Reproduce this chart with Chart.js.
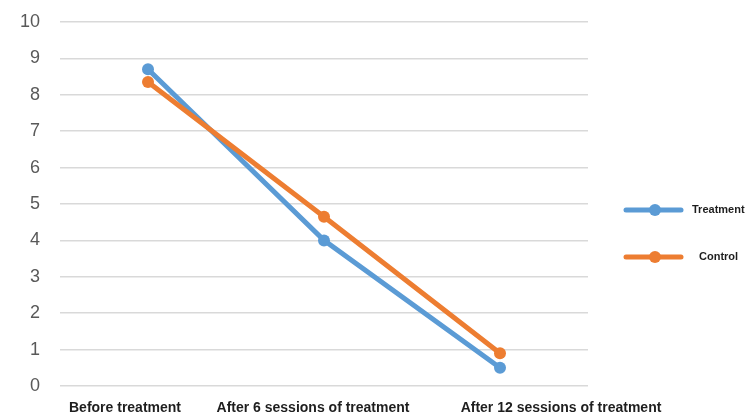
<!DOCTYPE html>
<html>
<head>
<meta charset="utf-8">
<script src="https://cdn.jsdelivr.net/npm/chart.js@4.4.1/dist/chart.umd.min.js"></script>
<style>
  html, body { margin: 0; padding: 0; background: #ffffff; }
  #wrap { width: 753px; height: 416px; }
</style>
</head>
<body>
<div id="wrap"><canvas id="chart" width="753" height="416"></canvas></div>
<script>
// Pain scores across the treatment course
const categories = ['Before treatment', 'After 6 sessions of treatment', 'After 12 sessions of treatment'];
const treatmentValues = [8.7, 4.0, 0.5];
const controlValues = [8.35, 4.65, 0.9];
const yTicks = [0, 1, 2, 3, 4, 5, 6, 7, 8, 9, 10];

const BLUE = '#5B9BD5';
const ORANGE = '#ED7D31';

// horizontal nudges for the category captions under the axis
const captionShift = [-23, -11, 61];

const categoryCaptions = {
  id: 'categoryCaptions',
  afterDraw(chart) {
    const ctx = chart.ctx;
    const xs = chart.scales.x;
    ctx.save();
    ctx.font = 'bold 14px "Liberation Sans", Arial, sans-serif';
    ctx.fillStyle = '#1e1e1e';
    ctx.textAlign = 'center';
    ctx.textBaseline = 'alphabetic';
    categories.forEach((c, i) => {
      ctx.fillText(c, xs.getPixelForTick(i) + captionShift[i], 412);
    });
    ctx.restore();
  }
};

const sideLegend = {
  id: 'sideLegend',
  afterDraw(chart) {
    const ctx = chart.ctx;
    const x0 = 626, x1 = 681, mid = 655;
    const rows = [
      { y: 210, tx: 692 },
      { y: 257, tx: 699 }
    ];
    ctx.save();
    chart.data.datasets.forEach((ds, i) => {
      const r = rows[i];
      ctx.strokeStyle = ds.borderColor;
      ctx.lineWidth = 5;
      ctx.lineCap = 'round';
      ctx.beginPath();
      ctx.moveTo(x0, r.y);
      ctx.lineTo(x1, r.y);
      ctx.stroke();
      ctx.fillStyle = ds.borderColor;
      ctx.beginPath();
      ctx.arc(mid, r.y, 6, 0, Math.PI * 2);
      ctx.fill();
      ctx.font = 'bold 11px "Liberation Sans", Arial, sans-serif';
      ctx.fillStyle = '#1e1e1e';
      ctx.textAlign = 'left';
      ctx.textBaseline = 'middle';
      ctx.fillText(ds.label, r.tx, r.y);
    });
    ctx.restore();
  }
};

new Chart(document.getElementById('chart'), {
  type: 'line',
  data: {
    labels: categories,
    datasets: [
      {
        label: 'Treatment',
        data: treatmentValues,
        borderColor: BLUE,
        backgroundColor: BLUE,
        borderWidth: 5,
        pointRadius: 6,
        pointBorderWidth: 0,
        pointBackgroundColor: BLUE,
        tension: 0,
        order: 1
      },
      {
        label: 'Control',
        data: controlValues,
        borderColor: ORANGE,
        backgroundColor: ORANGE,
        borderWidth: 5,
        pointRadius: 6,
        pointBorderWidth: 0,
        pointBackgroundColor: ORANGE,
        tension: 0,
        order: 0
      }
    ]
  },
  options: {
    responsive: false,
    devicePixelRatio: 1,
    animation: false,
    layout: { padding: { left: 0, right: 165, top: 22, bottom: 0 } },
    plugins: {
      legend: { display: false },
      tooltip: { enabled: false }
    },
    scales: {
      x: {
        offset: true,
        grid: { display: false, drawTicks: false },
        border: { display: false },
        ticks: { display: false },
        afterFit(scale) { scale.height = 30; }
      },
      y: {
        min: 0,
        max: 10,
        afterBuildTicks(scale) { scale.ticks = yTicks.map(v => ({ value: v })); },
        grid: { color: '#d9d9d9', lineWidth: 1.5, drawTicks: false },
        border: { display: false },
        ticks: {
          padding: 20,
          color: '#595959',
          font: { family: '"Liberation Sans", Arial, sans-serif', size: 18 }
        },
        afterFit(scale) {
          scale.width = 60;
          scale.paddingTop = 0;
          scale.paddingBottom = 0;
        }
      }
    }
  },
  plugins: [categoryCaptions, sideLegend]
});
</script>
</body>
</html>
